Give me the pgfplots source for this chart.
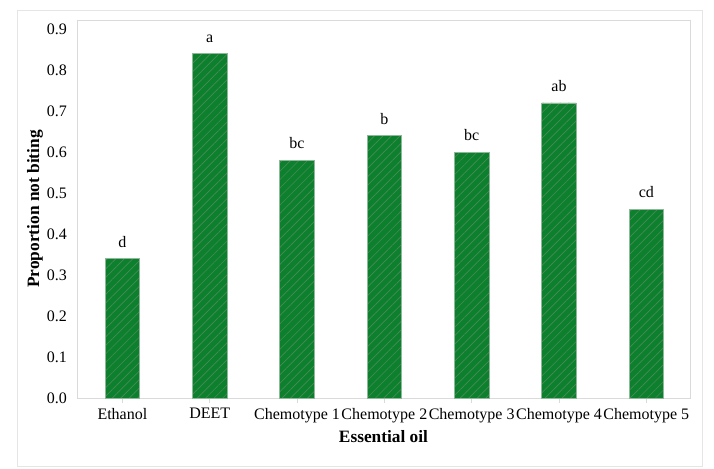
\documentclass[border=0pt]{standalone}
\usepackage{fontspec}
\setmainfont{Liberation Serif}
\usepackage{pgfplots}
\pgfplotsset{compat=1.18}
\usetikzlibrary{patterns.meta}
\definecolor{barfill}{HTML}{0C802C}
\definecolor{hatch}{HTML}{4A8A58}
\definecolor{baredge}{HTML}{8FB89A}
\definecolor{frame}{HTML}{DADADA}
\begin{document}
\begin{tikzpicture}
\useasboundingbox (-57.75pt,-52.5pt) rectangle (477.75pt,298.5pt);
\draw[frame!70] (-45pt,-51pt) rectangle (468.75pt,291pt);
\begin{axis}[
  at={(0,0)}, anchor=south west,
  scale only axis,
  width=459.75pt, height=283.5pt,
  xmin=-0.52, xmax=6.5,
  ymin=0, ymax=0.922,
  axis line style={frame},
  xtick={0,1,2,3,4,5,6},
  xticklabels={Ethanol,DEET,Chemotype 1,Chemotype 2,Chemotype 3,Chemotype 4,Chemotype 5},
  ytick={0,0.1,...,0.9},
  yticklabel style={/pgf/number format/.cd,fixed,fixed zerofill,precision=1},
  /pgf/number format/assume math mode=true,
  tick label style={font=\fontsize{12}{14}\selectfont, text=black},
  xtick style={draw=frame, thin},
  ytick style={draw=none},
  tick align=outside,
  major tick length=4pt,
  xtick pos=bottom,
  ytick pos=left,
  xlabel={\textbf{Essential oil}},
  ylabel={\textbf{Proportion not biting}},
  xlabel style={font=\fontsize{13}{15}\selectfont, at={(axis description cs:0.5,0)}, anchor=center, yshift=-29pt},
  ylabel style={font=\fontsize{13}{15}\selectfont, at={([xshift=-31.5pt]axis description cs:0,0.5)}, anchor=center},
  nodes near coords,
  point meta=explicit symbolic,
  nodes near coords style={font=\fontsize{12}{14}\selectfont, anchor=south, yshift=5pt},
]
\addplot[ybar, bar width=26pt, draw=baredge, fill=barfill,
  postaction={pattern={Lines[angle=45, distance=4.5pt, line width=0.5pt]}, pattern color=hatch}]
  coordinates {
  (0,0.34) [d]
  (1,0.84) [a]
  (2,0.58) [bc]
  (3,0.64) [b]
  (4,0.60) [bc]
  (5,0.72) [ab]
  (6,0.46) [cd]
};
\end{axis}
\end{tikzpicture}
\end{document}
